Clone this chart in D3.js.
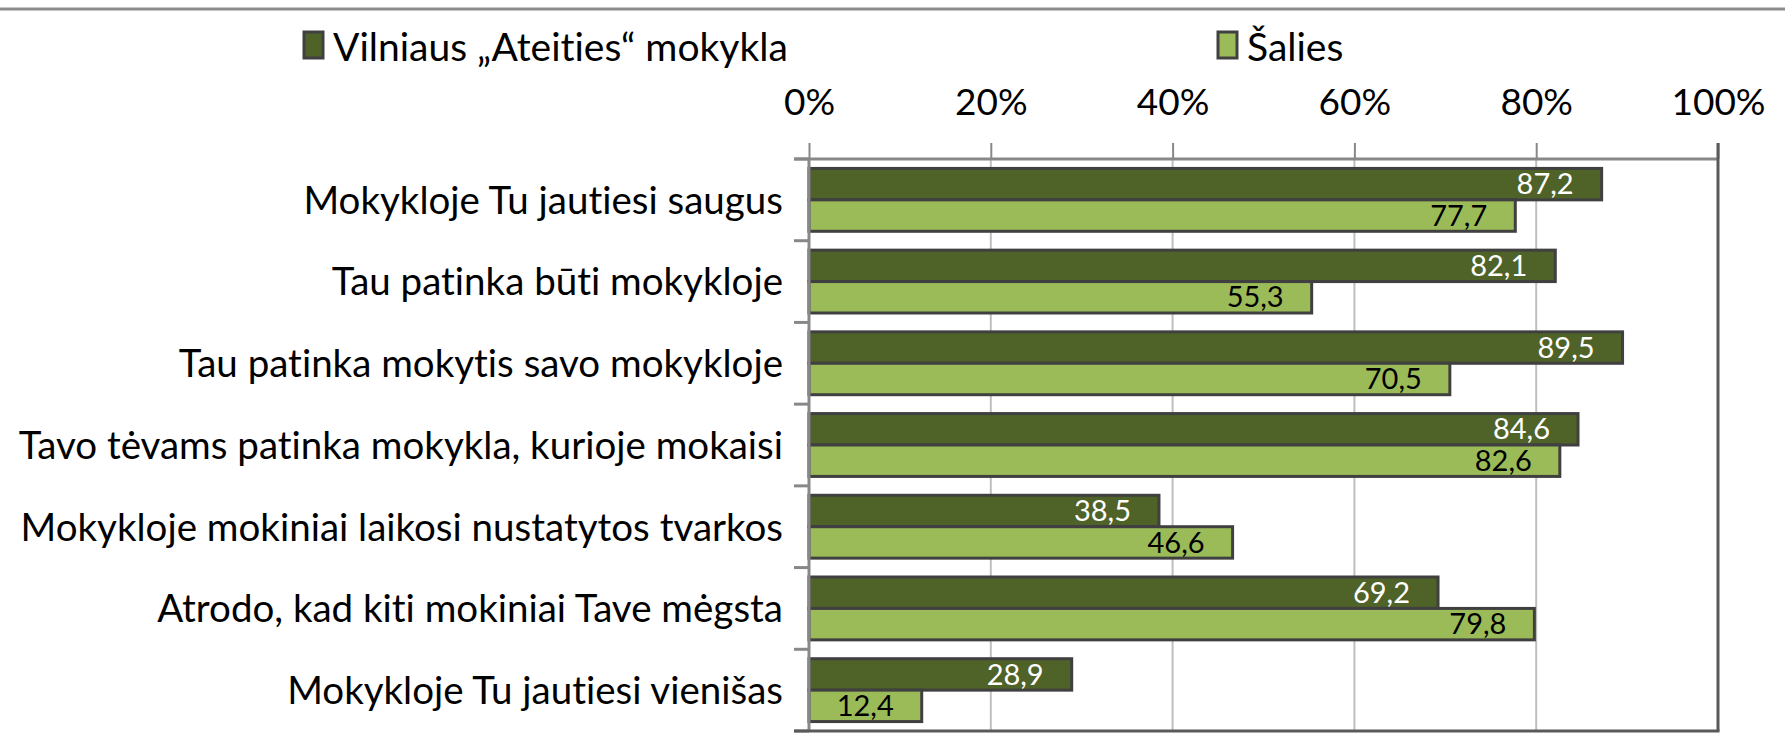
<!DOCTYPE html>
<html>
<head>
<meta charset="utf-8">
<script src="https://cdn.jsdelivr.net/npm/d3@7"></script>
<style>
  html, body { margin: 0; padding: 0; background: #ffffff; }
  svg { display: block; }
  text { font-family: Lato, "Open Sans", sans-serif; font-variant-ligatures: none; font-feature-settings: "liga" 0, "clig" 0, "dlig" 0; }
</style>
</head>
<body>
<svg id="chart" width="1785" height="751"></svg>
<script>
// Survey statements (rows, top to bottom)
const categories = [
  "Mokykloje Tu jautiesi saugus",
  "Tau patinka būti mokykloje",
  "Tau patinka mokytis savo mokykloje",
  "Tavo tėvams patinka mokykla, kurioje mokaisi",
  "Mokykloje mokiniai laikosi nustatytos tvarkos",
  "Atrodo, kad kiti mokiniai Tave mėgsta",
  "Mokykloje Tu jautiesi vienišas"
];
// Share of students agreeing, %
const schoolValues   = [87.2, 82.1, 89.5, 84.6, 38.5, 69.2, 28.9];
const nationalValues = [77.7, 55.3, 70.5, 82.6, 46.6, 79.8, 12.4];
const seriesNames = ["Vilniaus „Ateities“ mokykla", "Šalies"];
const seriesKeys = ["school", "national"];
const tickValues = [0, 20, 40, 60, 80, 100];

const colors = { school: "#4F6228", national: "#9BBB59" };
const labelColors = { school: "#ffffff", national: "#000000" };

const svg = d3.select("#chart");
const W = 1785, H = 751;

const x = d3.scaleLinear().domain([0, 100]).range([809, 1718]);
const y = d3.scaleBand().domain(categories).range([159, 731]).padding(0);
const ySub = d3.scaleBand().domain(seriesKeys).range([0, y.bandwidth()])
  .paddingInner(0).paddingOuter(0.3);

const rows = categories.map((c, i) => ({
  category: c,
  values: [
    { key: "school", value: schoolValues[i] },
    { key: "national", value: nationalValues[i] }
  ]
}));

// thin rule across the top of the page
svg.append("line")
  .attr("x1", 0).attr("x2", W).attr("y1", 9).attr("y2", 9)
  .attr("stroke", "#8c8c8c").attr("stroke-width", 3);

// vertical gridlines
svg.append("g").selectAll("line")
  .data(tickValues.slice(1, -1))
  .join("line")
  .attr("x1", d => x(d)).attr("x2", d => x(d))
  .attr("y1", y.range()[0]).attr("y2", y.range()[1])
  .attr("stroke", "#bfbfbf").attr("stroke-width", 2);

// top value axis
const topAxis = svg.append("g")
  .attr("transform", `translate(0,${y.range()[0]})`)
  .call(d3.axisTop(x).tickValues(tickValues).tickFormat(d => d + "%")
    .tickSize(16).tickSizeOuter(0).tickPadding(28));
topAxis.select(".domain").remove();
topAxis.selectAll(".tick line").attr("stroke", "#888888").attr("stroke-width", 2);
topAxis.selectAll(".tick text")
  .attr("fill", "#000").style("font-size", "37px")
  .style("font-family", "Lato, 'Open Sans', sans-serif");

// top axis line
svg.append("line")
  .attr("x1", 794).attr("x2", x(100))
  .attr("y1", y.range()[0]).attr("y2", y.range()[0])
  .attr("stroke", "#888888").attr("stroke-width", 3);

// right plot border
svg.append("line")
  .attr("x1", x(100)).attr("x2", x(100))
  .attr("y1", y.range()[0] - 16).attr("y2", y.range()[1])
  .attr("stroke", "#5a5a5a").attr("stroke-width", 3);

// bars
const groups = svg.append("g").selectAll("g")
  .data(rows)
  .join("g")
  .attr("transform", d => `translate(0,${y(d.category)})`);

groups.selectAll("rect")
  .data(d => d.values)
  .join("rect")
  .attr("x", x(0))
  .attr("y", d => ySub(d.key))
  .attr("width", d => x(d.value) - x(0))
  .attr("height", ySub.bandwidth())
  .attr("fill", d => colors[d.key])
  .attr("stroke", "#404040")
  .attr("stroke-width", 3);

// value labels, inside the bar end
const fmt = d3.format(".1f");
groups.selectAll("text.value")
  .data(d => d.values)
  .join("text")
  .attr("class", "value")
  .attr("x", d => x(d.value) - 28)
  .attr("y", d => ySub(d.key) + ySub.bandwidth() / 2)
  .attr("dy", "0.35em")
  .attr("text-anchor", "end")
  .attr("fill", d => labelColors[d.key])
  .style("font-size", "29px")
  .text(d => fmt(d.value).replace(".", ","));

// left category axis line and band ticks
svg.append("line")
  .attr("x1", x(0)).attr("x2", x(0))
  .attr("y1", y.range()[0]).attr("y2", y.range()[1])
  .attr("stroke", "#888888").attr("stroke-width", 3);

const boundaries = categories.map(c => y(c)).concat([y.range()[1]]);
svg.append("g").selectAll("line")
  .data(boundaries)
  .join("line")
  .attr("x1", 794).attr("x2", x(0))
  .attr("y1", d => d).attr("y2", d => d)
  .attr("stroke", "#888888").attr("stroke-width", 3);

// bottom axis line
svg.append("line")
  .attr("x1", 794).attr("x2", x(100) + 1.5)
  .attr("y1", y.range()[1]).attr("y2", y.range()[1])
  .attr("stroke", "#5a5a5a").attr("stroke-width", 3);

// category labels
svg.append("g").selectAll("text")
  .data(categories)
  .join("text")
  .attr("x", 783)
  .attr("y", d => y(d) + y.bandwidth() / 2)
  .attr("dy", "0.36em")
  .attr("text-anchor", "end")
  .attr("fill", "#000")
  .style("font-size", "38.5px")
  .text(d => d);

// legend
const legendX = [304, 1218];
const legend = svg.append("g").selectAll("g")
  .data(seriesKeys)
  .join("g")
  .attr("transform", (d, i) => `translate(${legendX[i]},32)`);
legend.append("rect")
  .attr("width", 19).attr("height", 26)
  .attr("fill", d => colors[d])
  .attr("stroke", "#404040").attr("stroke-width", 3);
legend.append("text")
  .attr("x", 29).attr("y", 29)
  .attr("fill", "#000")
  .style("font-size", "39px")
  .text((d, i) => seriesNames[i]);
</script>
</body>
</html>
